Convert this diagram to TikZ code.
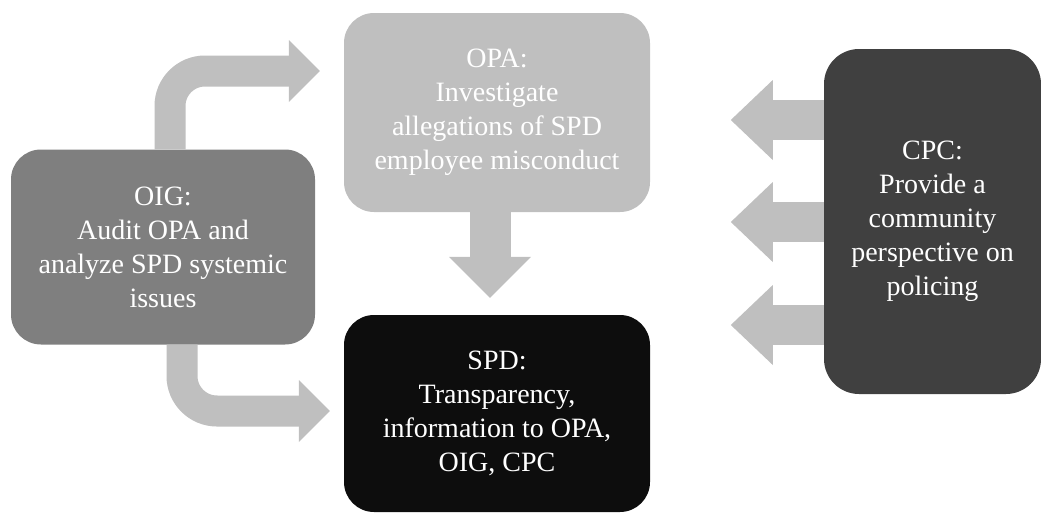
\documentclass[tikz,border=0pt]{standalone}
\usepackage{fontspec}
\setmainfont{LiberationSerif}[Extension=.ttf, UprightFont=*-Regular, BoldFont=*-Bold]
\usetikzlibrary{positioning, arrows.meta, calc}
\definecolor{oiggray}{HTML}{7F7F7F}
\definecolor{opagray}{HTML}{BFBFBF}
\definecolor{spdblack}{HTML}{0D0D0D}
\definecolor{cpcgray}{HTML}{404040}
\definecolor{flowgray}{HTML}{BFBFBF}

\begin{document}
\begin{tikzpicture}[x=1pt, y=-1pt,
	box/.style={rounded corners=30pt, inner sep=0pt, align=center, text=white, font=\fontsize{28}{34}\selectfont},
	flow/.style={draw=flowgray, line width=31pt, rounded corners=35pt, -{Triangle[width=62pt, length=31pt, line width=0pt]}}]
	\useasboundingbox (0,0) rectangle (1041,514);
	
	% Offices
	\node[box, fill=oiggray, minimum width=304pt, minimum height=195pt] (oig) at (163,247) {OIG:\\Audit OPA and\\analyze SPD systemic\\issues};
	\node[box, fill=opagray, minimum width=306pt, minimum height=199pt] (opa) at (497,112.5) {OPA:\\Investigate\\allegations of SPD\\employee misconduct};
	\node[box, fill=spdblack, minimum width=306pt, minimum height=197pt] (spd) at (497,413.5) {SPD:\\Transparency,\\information to OPA,\\OIG, CPC};
	\node[box, fill=cpcgray, minimum width=217pt, minimum height=345pt, rounded corners=35pt] (cpc) at (932.5,221.5) {CPC:\\Provide a\\community\\perspective on\\policing};
	
	% Flows
	\draw[flow] ($(oig.north)+(7,0)$) |- ($(opa.west)+(-24,-41.5)$);
	\draw[flow] ($(oig.south)+(19,0)$) |- ($(spd.west)+(-14,-2.5)$);
	\draw[flow, line width=41pt, -{Triangle[width=82pt, length=41pt, line width=0pt]}] ($(opa.south)+(-7,0)$) -- ($(spd.north)+(-7,-17)$);
	\foreach \dy in {-101.5, 0.5, 103.5}
		\draw[flow, line width=40pt, -{Triangle[width=80pt, length=42pt, line width=0pt]}] ($(cpc.west)+(0,\dy)$) -- ($(cpc.west)+(-93,\dy)$);
\end{tikzpicture}
\end{document}
